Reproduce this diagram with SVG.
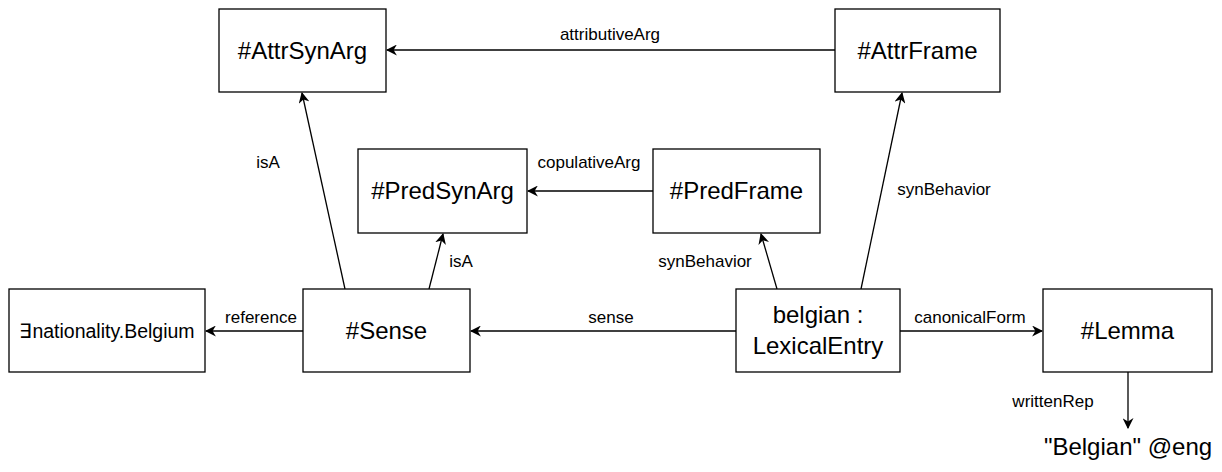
<svg xmlns="http://www.w3.org/2000/svg" width="1222" height="472" viewBox="0 0 1222 472">
<style>
.n{fill:#fff;stroke:#000;stroke-width:1.3}
.t{font-family:"Liberation Sans",Arial,sans-serif;font-size:24px;text-anchor:middle;fill:#000}
.l{font-family:"Liberation Sans",Arial,sans-serif;font-size:17px;text-anchor:middle;fill:#000}
.c{stroke:#000;stroke-width:1.3;fill:none;marker-end:url(#a)}
</style>
<defs>
<marker id="a" viewBox="0 0 10 10" refX="9" refY="5" markerWidth="11" markerHeight="11" markerUnits="userSpaceOnUse" orient="auto">
<path d="M0,0 L10,5 L0,10 L3,5 Z" fill="#000"/>
</marker>
</defs>
<rect width="1222" height="472" fill="#fff"/>
<g id="connectors">
<line class="c" x1="835" y1="50" x2="387" y2="50"/>
<text class="l" x="610" y="40">attributiveArg</text>
<line class="c" x1="653" y1="191" x2="528" y2="191"/>
<text class="l" x="589" y="168">copulativeArg</text>
<line class="c" x1="345" y1="289" x2="302" y2="93"/>
<text class="l" x="268" y="168">isA</text>
<line class="c" x1="429" y1="289" x2="443" y2="234"/>
<text class="l" x="461" y="267">isA</text>
<line class="c" x1="777" y1="289" x2="761" y2="234"/>
<text class="l" x="705" y="267">synBehavior</text>
<line class="c" x1="861" y1="289" x2="902" y2="93"/>
<text class="l" x="944" y="195">synBehavior</text>
<line class="c" x1="736" y1="331" x2="471" y2="331"/>
<text class="l" x="611" y="323">sense</text>
<line class="c" x1="303" y1="331" x2="206" y2="331"/>
<text class="l" x="261" y="323">reference</text>
<line class="c" x1="900" y1="331" x2="1042" y2="331"/>
<text class="l" x="970" y="323">canonicalForm</text>
<line class="c" x1="1128" y1="372" x2="1128" y2="428"/>
<text class="l" x="1053" y="407">writtenRep</text>
</g>
<g id="AttrSynArg"><rect class="n" x="219" y="9" width="167" height="83"/><text class="t" x="302.5" y="59">#AttrSynArg</text></g>
<g id="AttrFrame"><rect class="n" x="835" y="9" width="165" height="83"/><text class="t" x="917.5" y="59">#AttrFrame</text></g>
<g id="PredSynArg"><rect class="n" x="358" y="149" width="169" height="84"/><text class="t" x="442.5" y="199">#PredSynArg</text></g>
<g id="PredFrame"><rect class="n" x="653" y="149" width="167" height="84"/><text class="t" x="736.5" y="199">#PredFrame</text></g>
<g id="Nationality"><rect class="n" x="9" y="289" width="196" height="83"/><text class="t" x="107" y="338" style="font-size:19.5px">∃nationality.Belgium</text></g>
<g id="Sense"><rect class="n" x="303" y="289" width="167" height="83"/><text class="t" x="386.5" y="339">#Sense</text></g>
<g id="LexicalEntry"><rect class="n" x="736" y="289" width="164" height="83"/><text class="t" x="818" y="323">belgian :</text><text class="t" x="818" y="354">LexicalEntry</text></g>
<g id="Lemma"><rect class="n" x="1043" y="289" width="169" height="83"/><text class="t" x="1127.5" y="339">#Lemma</text></g>
<g id="Belgian"><text class="t" x="1128" y="455">"Belgian" @eng</text></g>
</svg>
